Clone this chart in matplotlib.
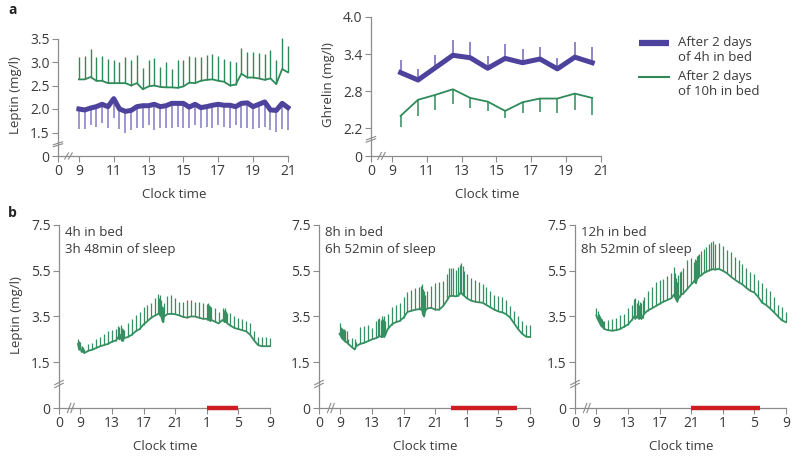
import matplotlib.pyplot as plt
from matplotlib.lines import Line2D

plt.rcParams['font.family'] = ['Open Sans', 'DejaVu Sans']
plt.rcParams['font.size'] = 9

# ---- panel a : leptin, sampled every 20 min ----
lep_t = [9.0, 9.33, 9.67, 10.0, 10.33, 10.67, 11.0, 11.33, 11.67, 12.0, 12.33, 12.67,
         13.0, 13.33, 13.67, 14.0, 14.33, 14.67, 15.0, 15.33, 15.67, 16.0, 16.33, 16.67,
         17.0, 17.33, 17.67, 18.0, 18.33, 18.67, 19.0, 19.33, 19.67, 20.0, 20.33, 20.67, 21.0]
lep_10h = [2.63, 2.63, 2.68, 2.60, 2.60, 2.55, 2.55, 2.55, 2.55, 2.50, 2.55, 2.42,
           2.48, 2.50, 2.47, 2.46, 2.46, 2.45, 2.48, 2.56, 2.55, 2.60, 2.62, 2.63,
           2.60, 2.58, 2.50, 2.52, 2.75, 2.67, 2.67, 2.65, 2.62, 2.65, 2.53, 2.85, 2.78]
lep_10h_hi = [3.10, 3.12, 3.27, 3.10, 3.12, 3.06, 3.05, 3.00, 3.10, 3.05, 3.15, 2.87,
              3.05, 3.08, 2.90, 3.00, 2.85, 3.05, 3.05, 3.12, 3.10, 3.10, 3.15, 3.18,
              3.12, 3.07, 3.02, 3.00, 3.30, 3.22, 3.22, 3.20, 3.18, 3.25, 3.05, 3.52, 3.35]
lep_4h = [2.00, 1.98, 2.02, 2.05, 2.10, 2.05, 2.22, 2.00, 1.95, 1.97, 2.05, 2.07,
          2.07, 2.10, 2.05, 2.07, 2.12, 2.12, 2.12, 2.04, 2.10, 2.03, 2.05, 2.08,
          2.10, 2.08, 2.08, 2.05, 2.12, 2.13, 2.05, 2.10, 2.15, 1.98, 1.97, 2.12, 2.03]
lep_4h_lo = [1.58, 1.58, 1.65, 1.62, 1.70, 1.60, 1.80, 1.58, 1.50, 1.55, 1.60, 1.60,
             1.65, 1.55, 1.60, 1.60, 1.60, 1.62, 1.60, 1.60, 1.65, 1.60, 1.62, 1.60,
             1.65, 1.62, 1.60, 1.65, 1.60, 1.60, 1.58, 1.60, 1.62, 1.55, 1.52, 1.58, 1.55]

# ---- panel a : ghrelin, hourly ----
ghr_t = [9.5, 10.5, 11.5, 12.5, 13.5, 14.5, 15.5, 16.5, 17.5, 18.5, 19.5, 20.5]
ghr_4h = [3.10, 2.98, 3.18, 3.38, 3.34, 3.17, 3.33, 3.26, 3.32, 3.16, 3.35, 3.26]
ghr_4h_hi = [3.30, 3.16, 3.39, 3.63, 3.60, 3.37, 3.57, 3.48, 3.52, 3.34, 3.60, 3.52]
ghr_10h = [2.40, 2.66, 2.74, 2.83, 2.69, 2.63, 2.48, 2.62, 2.68, 2.68, 2.76, 2.69]
ghr_10h_lo = [2.22, 2.40, 2.49, 2.59, 2.52, 2.48, 2.36, 2.44, 2.47, 2.45, 2.49, 2.42]

# ---- panel b : 24 h leptin profiles (hours after midnight of day 1) ----
b1_t = [8.7, 8.85, 9.0, 9.15, 9.3, 9.5, 10.0, 10.5, 11.0, 11.5, 12.0, 12.5, 13.0, 13.5,
        13.8, 13.95, 14.1, 14.25, 14.4, 14.5, 15.0, 15.5, 16.0, 16.5, 17.0, 17.5, 18.0,
        18.5, 18.8, 18.95, 19.1, 19.25, 19.4, 19.5, 19.6, 20.0, 20.5, 21.0, 21.5, 22.0,
        22.5, 23.0, 23.5, 24.0, 24.5, 25.0, 25.15, 25.3, 25.45, 25.6, 26.0, 26.5, 27.0,
        27.15, 27.3, 27.45, 27.6, 28.0, 28.5, 29.0, 29.5, 30.0, 30.5, 31.0, 31.5, 32.0,
        32.5, 33.0]
b1_mean = [2.3, 2.05, 2.2, 1.95, 2.0, 1.9, 2.0, 2.05, 2.12, 2.2, 2.25, 2.3, 2.4, 2.45,
           2.6, 2.5, 2.7, 2.45, 2.45, 2.55, 2.6, 2.7, 2.85, 2.95, 3.15, 3.3, 3.45,
           3.55, 3.6, 3.65, 3.55, 3.5, 3.3, 3.25, 3.5, 3.6, 3.62, 3.6, 3.55, 3.48,
           3.45, 3.5, 3.5, 3.45, 3.4, 3.4, 3.35, 3.38, 3.3, 3.35, 3.28, 3.2, 3.35,
           3.3, 3.25, 3.3, 3.2, 3.1, 3.0, 2.95, 2.9, 2.85, 2.7, 2.45, 2.25, 2.2,
           2.2, 2.2]
b1_hi = [2.5, 2.45, 2.4, 2.2, 2.15, 2.1, 2.3, 2.35, 2.5, 2.6, 2.75, 2.85, 2.9, 2.95,
         3.1, 3.05, 3.15, 3.0, 2.95, 2.9, 3.2, 3.4, 3.55, 3.7, 3.9, 4.0, 4.1,
         4.3, 4.5, 4.3, 4.45, 4.2, 3.95, 3.9, 4.1, 4.4, 4.45, 4.3, 4.15, 4.15,
         4.2, 4.2, 4.15, 4.15, 4.1, 4.05, 4.1, 4.0, 3.95, 3.9, 3.85, 3.7, 3.85,
         3.8, 3.85, 3.75, 3.65, 3.65, 3.5, 3.45, 3.4, 3.3, 3.2, 2.85, 2.6, 2.6,
         2.6, 2.55]

b2_t = [8.9, 9.05, 9.2, 9.35, 9.5, 9.65, 9.8, 10.0, 10.5, 10.8, 11.0, 11.5, 12.0, 12.5,
        13.0, 13.5, 13.8, 13.95, 14.1, 14.25, 14.4, 14.55, 14.7, 15.0, 15.5, 16.0, 16.5,
        17.0, 17.5, 18.0, 18.5, 19.0, 19.15, 19.3, 19.45, 19.6, 19.75, 20.0, 20.5, 21.0,
        21.5, 22.0, 22.5, 22.8, 23.0, 23.3, 23.6, 23.9, 24.1, 24.3, 24.5, 24.7, 25.0,
        25.5, 26.0, 26.5, 27.0, 27.5, 28.0, 28.5, 29.0, 29.5, 30.0, 30.5, 31.0, 31.5,
        32.0, 32.5, 33.0]
b2_mean = [2.75, 2.65, 2.55, 2.5, 2.45, 2.4, 2.38, 2.3, 2.15, 2.06, 2.2, 2.3, 2.35, 2.42,
           2.5, 2.55, 2.6, 2.65, 2.62, 2.6, 2.65, 2.6, 2.7, 2.95, 3.15, 3.25, 3.3,
           3.45, 3.7, 3.75, 3.8, 3.82, 3.8, 3.9, 3.6, 3.5, 3.75, 3.85, 3.88, 3.8,
           3.8, 3.95, 4.2, 4.38, 4.4, 4.4, 4.38, 4.4, 4.5, 4.55, 4.45, 4.4, 4.3,
           4.2, 4.15, 4.12, 4.1, 4.0, 3.9, 3.8, 3.72, 3.68, 3.6, 3.45, 3.2, 2.95,
           2.75, 2.62, 2.6]
b2_hi = [3.2, 3.05, 3.0, 2.95, 2.95, 2.9, 2.85, 2.5, 2.55, 2.5, 2.4, 3.05, 3.1, 3.15,
         3.0, 3.3, 3.4, 3.45, 3.35, 3.5, 3.4, 3.5, 3.3, 3.6, 3.9, 4.0, 4.1,
         4.35, 4.55, 4.65, 4.75, 4.8, 4.85, 4.9, 4.7, 4.6, 4.45, 4.6, 4.85, 4.95,
         5.0, 5.05, 5.35, 5.6, 5.6, 5.6, 5.55, 5.65, 5.75, 5.85, 5.7, 5.5, 5.35,
         5.2, 5.1, 5.0, 4.9, 4.8, 4.6, 4.45, 4.4, 4.35, 4.2, 3.95, 3.75, 3.5,
         3.3, 3.15, 3.15]

b3_t = [9.0, 9.15, 9.3, 9.45, 9.6, 9.75, 9.9, 10.0, 10.5, 11.0, 11.5, 12.0, 12.5, 13.0,
        13.5, 13.8, 13.95, 14.1, 14.25, 14.4, 14.55, 14.7, 14.85, 15.0, 15.5, 16.0, 16.5,
        17.0, 17.5, 18.0, 18.5, 18.8, 18.95, 19.1, 19.25, 19.4, 19.55, 19.7, 20.0, 20.5,
        21.0, 21.3, 21.45, 21.6, 21.75, 21.9, 22.0, 22.3, 22.6, 22.9, 23.2, 23.5, 23.8,
        24.0, 24.5, 25.0, 25.5, 26.0, 26.5, 27.0, 27.5, 28.0, 28.5, 29.0, 29.5, 30.0,
        30.5, 31.0, 31.5, 32.0, 32.5, 33.0]
b3_mean = [3.55, 3.4, 3.3, 3.2, 3.1, 3.05, 3.0, 2.95, 2.9, 2.88, 2.9, 2.95, 3.05, 3.15,
           3.35, 3.5, 3.4, 3.5, 3.45, 3.4, 3.45, 3.4, 3.45, 3.6, 3.76, 3.85, 3.95,
           4.05, 4.15, 4.22, 4.3, 4.45, 4.35, 4.25, 4.15, 4.3, 4.35, 4.45, 4.5, 4.7,
           4.9, 5.0, 5.1, 4.95, 5.15, 5.2, 5.25, 5.3, 5.4, 5.45, 5.5, 5.55, 5.57,
           5.55, 5.58, 5.5, 5.4, 5.25, 5.12, 5.0, 4.9, 4.75, 4.62, 4.55, 4.35, 4.1,
           4.0, 3.85, 3.68, 3.5, 3.33, 3.25]
b3_hi = [3.85, 3.75, 3.6, 3.5, 3.45, 3.4, 3.3, 3.3, 3.35, 3.4, 3.45, 3.55, 3.6, 3.85,
         4.0, 4.25, 4.3, 4.1, 4.2, 4.0, 4.15, 4.1, 4.2, 4.35, 4.6, 4.8, 5.0,
         5.1, 5.15, 5.25, 5.4, 5.65, 5.4, 5.2, 5.0, 5.3, 5.45, 5.5, 5.6, 5.95,
         6.05, 5.9, 6.0, 5.95, 6.15, 6.2, 6.25, 6.35, 6.45, 6.55, 6.65, 6.75, 6.8,
         6.65, 6.7, 6.6, 6.4, 6.3, 6.1, 5.95, 5.8, 5.6, 5.45, 5.35, 5.1, 4.95,
         4.75, 4.6, 4.35, 4.0, 3.9, 3.7]

b_titles = ['4h in bed\n3h 48min of sleep', '8h in bed\n6h 52min of sleep',
            '12h in bed\n8h 52min of sleep']
bed_start = [25.0, 23.0, 21.0]
bed_end = [29.0, 31.3, 29.7]

b_xticks = [9, 13, 17, 21, 25, 29, 33]
b_xlabels = ['9', '13', '17', '21', '1', '5', '9']
a_xticks = [9, 11, 13, 15, 17, 19, 21]

PURPLE = '#4d429c'
PURPLE_LT = '#8d84c9'
PURPLE_MID = '#6f64b6'
GREEN = '#2f8a59'
GREEN_B = '#358f60'
RED = '#cc1d22'
AXC = '#8c8c8c'
TXT = '#3a3a3a'

W, H = 800, 458
fig = plt.figure(figsize=(8, 4.58), dpi=100)


def box(left, right, top, bottom):
    return [left / W, 1 - bottom / H, (right - left) / W, (bottom - top) / H]


def style(ax, xlim, ylim, xticks, xlabels, yticks, ylabels, ybreak, xbreak):
    ax.set_xlim(xlim)
    ax.set_ylim(ylim)
    for s in ('top', 'right'):
        ax.spines[s].set_visible(False)
    for s in ('left', 'bottom'):
        ax.spines[s].set_color(AXC)
        ax.spines[s].set_linewidth(0.9)
    ax.spines['left'].set_bounds(ylim[0], yticks[-1])
    ax.spines['bottom'].set_bounds(xlim[0], xticks[-1])
    ax.set_xticks([xlim[0]] + xticks)
    ax.set_xticklabels(['0'] + xlabels)
    ax.set_yticks([ylim[0]] + yticks)
    ax.set_yticklabels(['0'] + ylabels)
    ax.tick_params(direction='out', length=4, width=0.8, color=AXC,
                   labelcolor=TXT, labelsize=10, pad=2)
    ax.set_xlabel('Clock time', fontsize=9.5, color=TXT, labelpad=6)
    # "//" break marks on both axes
    kw = dict(color=AXC, lw=0.8, clip_on=False)
    yspan = ylim[1] - ylim[0]
    xspan = xlim[1] - xlim[0]
    for off in (-0.008, 0.008):
        ax.plot([-0.02, 0.02],
                [ybreak + (off - 0.012) * yspan, ybreak + (off + 0.012) * yspan],
                transform=ax.get_yaxis_transform(), **kw)
        ax.plot([xbreak + (off - 0.008) * xspan, xbreak + (off + 0.008) * xspan],
                [-0.025, 0.025], transform=ax.get_xaxis_transform(), **kw)


# ---- a : leptin ----
ax1 = fig.add_axes(box(58, 291.4, 33.8, 156))
ax1.vlines(lep_t, lep_10h, lep_10h_hi, color=GREEN, lw=1.0)
ax1.plot(lep_t, lep_10h, color=GREEN, lw=1.3)
ax1.vlines(lep_t, lep_4h_lo, lep_4h, color=PURPLE_LT, lw=1.2)
ax1.plot(lep_t, lep_4h, color=PURPLE, lw=3.6, solid_joinstyle='round')
style(ax1, (7.8, 21.2), (1.0, 3.6), a_xticks, [str(v) for v in a_xticks],
      [1.5, 2.0, 2.5, 3.0, 3.5], ['1.5', '2.0', '2.5', '3.0', '3.5'], 1.25, 8.4)
ax1.set_ylabel('Leptin (mg/l)', fontsize=9.5, color=TXT, labelpad=6)

# ---- a : ghrelin ----
ax2 = fig.add_axes(box(371, 604.4, 13.9, 156))
ax2.vlines(ghr_t, ghr_10h_lo, ghr_10h, color=GREEN, lw=1.1)
ax2.plot(ghr_t, ghr_10h, color=GREEN, lw=1.3)
ax2.vlines(ghr_t, ghr_4h, ghr_4h_hi, color=PURPLE_MID, lw=1.1)
ax2.plot(ghr_t, ghr_4h, color=PURPLE, lw=3.6, solid_joinstyle='round')
style(ax2, (7.8, 21.2), (1.75, 4.05), a_xticks, [str(v) for v in a_xticks],
      [2.2, 2.8, 3.4, 4.0], ['2.2', '2.8', '3.4', '4.0'], 2.02, 8.4)
ax2.set_ylabel('Ghrelin (mg/l)', fontsize=9.5, color=TXT, labelpad=6)

# legend
fig.add_artist(Line2D([639 / W, 669 / W], [1 - 43 / H] * 2, color=PURPLE, lw=4.5,
                      solid_capstyle='butt'))
fig.add_artist(Line2D([639 / W, 669 / W], [1 - 77 / H] * 2, color=GREEN, lw=1.5))
fig.text(678 / W, 1 - 50 / H, 'After 2 days\nof 4h in bed', fontsize=9.5, color=TXT,
         va='center', linespacing=1.25)
fig.text(678 / W, 1 - 84 / H, 'After 2 days\nof 10h in bed', fontsize=9.5, color=TXT,
         va='center', linespacing=1.25)

# ---- b ----
b_series = [(b1_t, b1_mean, b1_hi), (b2_t, b2_mean, b2_hi), (b3_t, b3_mean, b3_hi)]
b_left = [59, 319, 575]
for i in range(3):
    t, m, hi = b_series[i]
    ax = fig.add_axes(box(b_left[i], b_left[i] + 213.3, 222.7, 408))
    ax.vlines(t, m, hi, color=GREEN_B, lw=0.9)
    ax.plot(t, m, color=GREEN_B, lw=1.3)
    style(ax, (6.3, 33.3), (-0.5, 7.6), b_xticks, b_xlabels,
          [1.5, 3.5, 5.5, 7.5], ['1.5', '3.5', '5.5', '7.5'], 0.55, 7.8)
    ax.plot([bed_start[i], bed_end[i]], [-0.5, -0.5], color=RED, lw=3.2,
            solid_capstyle='butt', clip_on=False, zorder=5)
    ax.text(7.1, 7.45, b_titles[i], fontsize=9.5, color=TXT, va='top',
            linespacing=1.35)
    if i == 0:
        ax.set_ylabel('Leptin (mg/l)', fontsize=9.5, color=TXT, labelpad=6)

fig.text(8 / W, 1 - 10 / H, 'a', fontsize=10, fontweight='bold', color='#222',
         va='center')
fig.text(8 / W, 1 - 213 / H, 'b', fontsize=10, fontweight='bold', color='#222',
         va='center')

fig.savefig('out.png', dpi=100)
